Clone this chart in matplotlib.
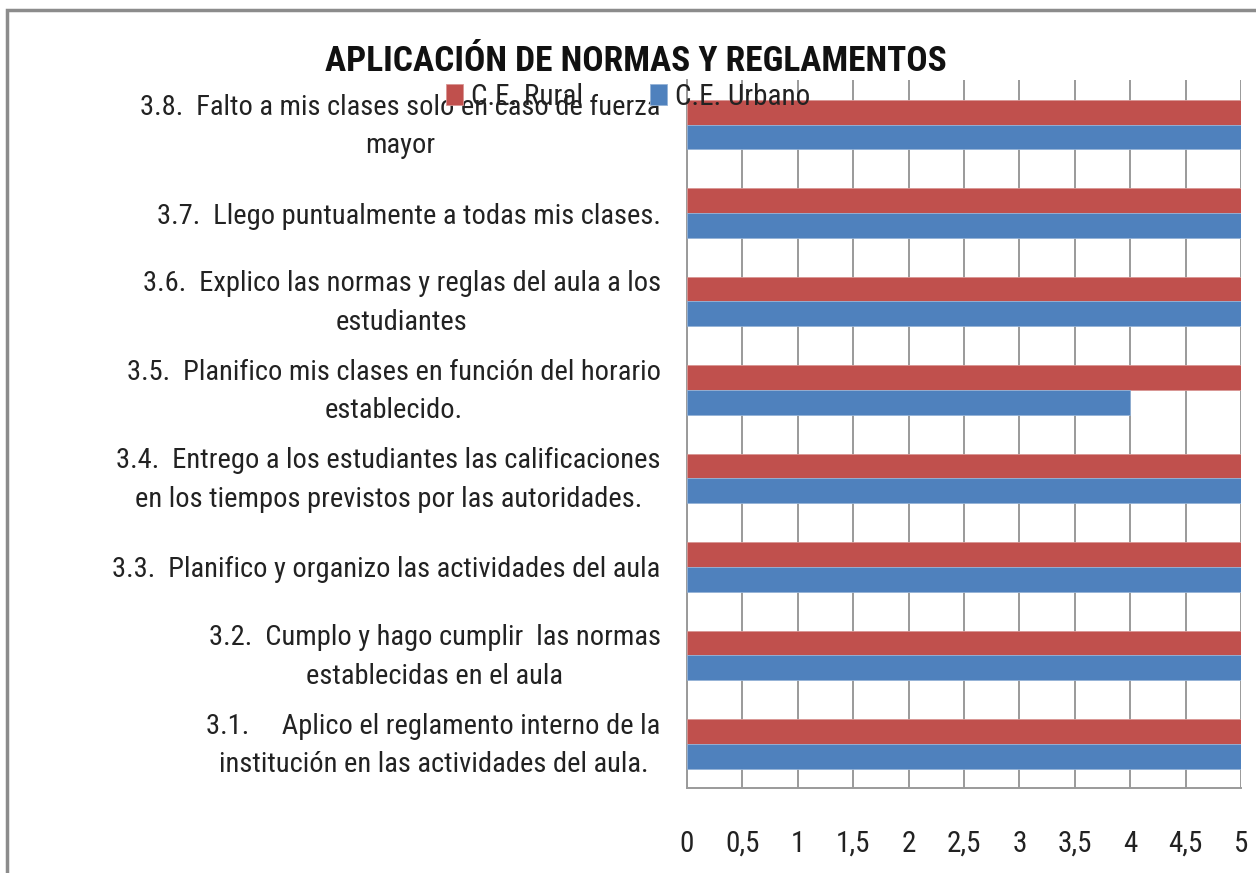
import matplotlib.pyplot as plt
from matplotlib.patches import Rectangle
from matplotlib.transforms import ScaledTranslation
import numpy as np

# datos
preguntas = [
    "3.1.     Aplico el reglamento interno de la\ninstitución en las actividades del aula.",
    "3.2.  Cumplo y hago cumplir  las normas\nestablecidas en el aula",
    "3.3.  Planifico y organizo las actividades del aula",
    "3.4.  Entrego a los estudiantes las calificaciones\nen los tiempos previstos por las autoridades.",
    "3.5.  Planifico mis clases en función del horario\nestablecido.",
    "3.6.  Explico las normas y reglas del aula a los\nestudiantes",
    "3.7.  Llego puntualmente a todas mis clases.",
    "3.8.  Falto a mis clases solo en caso de fuerza\nmayor",
]
rural = [5, 5, 5, 5, 5, 5, 5, 5]
urbano = [5, 5, 5, 5, 4, 5, 5, 5]
xticks = [0, 0.5, 1, 1.5, 2, 2.5, 3, 3.5, 4, 4.5, 5]
xlabels = ["0", "0,5", "1", "1,5", "2", "2,5", "3", "3,5", "4", "4,5", "5"]

plt.rcParams['font.family'] = ['Roboto Condensed', 'Lato', 'DejaVu Sans']

fig = plt.figure(figsize=(12.56, 8.73), dpi=100)
ax = fig.add_axes([0.547, 0.0974, 0.441, 0.8106])

y = np.arange(len(preguntas))
h = 0.28
ax.barh(y + h / 2, rural, h, color='#C0504D', edgecolor='#D99694', linewidth=0.6, label='C.E. Rural', zorder=3)
ax.barh(y - h / 2, urbano, h, color='#4F81BD', edgecolor='#95B3D7', linewidth=0.6, label='C.E. Urbano', zorder=3)

ax.set_xlim(0, 5)
ax.set_ylim(-0.5, 7.5)
ax.set_xticks(xticks)
ax.set_xticklabels(xlabels, fontsize=21)
ax.set_yticks(y)
ax.set_yticklabels(preguntas, fontsize=20.5, multialignment='center', linespacing=1.55)
ax.tick_params(axis='both', length=0, colors='#222222')
ax.tick_params(axis='x', pad=30)
ax.tick_params(axis='y', pad=19)
# las etiquetas de dos líneas quedan un poco más arriba
for t in ax.get_yticklabels():
    if "\n" in t.get_text():
        t.set_transform(t.get_transform() + ScaledTranslation(0, 0.07, fig.dpi_scale_trans))
ax.grid(axis='x', color='#9a9a9a', linewidth=1.4, zorder=0)
for s in ['top', 'right']:
    ax.spines[s].set_visible(False)
for s in ['left', 'bottom']:
    ax.spines[s].set_color('#9a9a9a')
    ax.spines[s].set_linewidth(1.4)

fig.text(0.506, 0.929, "APLICACIÓN DE NORMAS Y REGLAMENTOS", ha='center', va='center',
         fontsize=25.5, fontweight='bold', color='#111111')

fig.legend(loc='center', bbox_to_anchor=(0.5, 0.889), ncol=2, frameon=False, fontsize=21,
           handlelength=0.6, handleheight=0.7, handletextpad=0.25, columnspacing=2.3,
           labelcolor='#222222')

# marco del gráfico
fig.patches.append(Rectangle((7 / 1256, -0.05), 1.1, 1 - 10 / 873 + 0.05, transform=fig.transFigure,
                             fill=False, edgecolor='#8c8c8c', linewidth=2.5))

fig.savefig('out.png', dpi=100, facecolor='white')
